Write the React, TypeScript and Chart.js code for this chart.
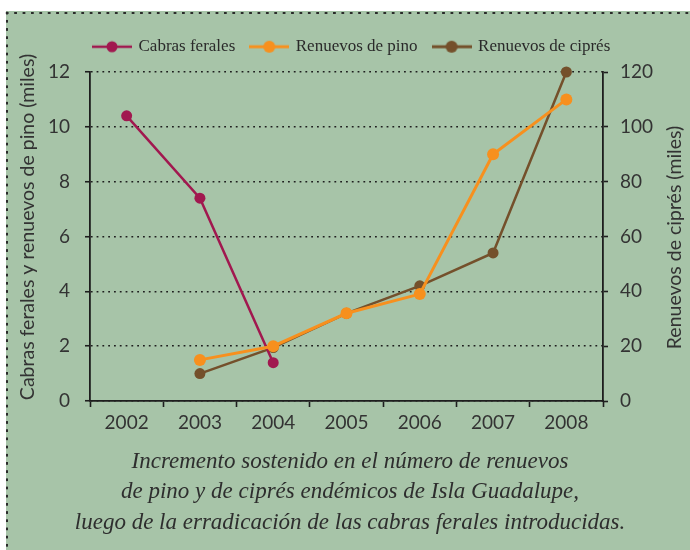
import React, { useEffect, useRef } from "react";
import { Chart, registerables } from "chart.js";

Chart.register(...registerables);

const categories = ["2002", "2003", "2004", "2005", "2006", "2007", "2008"];
const cabrasFerales = [10.4, 7.4, 1.4, null, null, null, null];
const renuevosPino = [null, 1.5, 2.0, 3.2, 3.9, 9.0, 11.0];
const renuevosCipres = [null, 10, 19.5, 32, 42, 54, 120];
const seriesLabels = ["Cabras ferales", "Renuevos de pino", "Renuevos de ciprés"];
const leftTitle = "Cabras ferales y renuevos de pino (miles)";
const rightTitle = "Renuevos de ciprés (miles)";
const caption = [
  "Incremento sostenido en el número de renuevos",
  "de pino y de ciprés endémicos de Isla Guadalupe,",
  "luego de la erradicación de las cabras ferales introducidas.",
];

const GREEN = "#a7c4a8";
const C_CABRAS = "#a1184f";
const C_PINO = "#f7901e";
const C_CIPRES = "#74502b";
const AXIS = "#1e1e1e";
const TEXT = "#333333";

function makeMarker(color: string, lw: number, r: number) {
  const c = document.createElement("canvas");
  c.width = 40;
  c.height = 14;
  const ctx = c.getContext("2d")!;
  ctx.strokeStyle = color;
  ctx.lineWidth = lw;
  ctx.beginPath();
  ctx.moveTo(0, 7);
  ctx.lineTo(40, 7);
  ctx.stroke();
  ctx.fillStyle = color;
  ctx.beginPath();
  ctx.arc(20, 7, r, 0, Math.PI * 2);
  ctx.fill();
  return c;
}

const customPlugin = {
  id: "customLayout",
  afterLayout(chart: any) {
    const lg = chart.legend;
    if (lg) {
      const w = lg.width;
      const h = lg.height;
      lg.left = 78;
      lg.right = 78 + w;
      lg.top = 22.2;
      lg.bottom = 22.2 + h;
    }
  },
  afterDraw(chart: any) {
    const ctx = chart.ctx;
    const drawTitle = (text: string, x: number, y: number) => {
      ctx.save();
      ctx.fillStyle = TEXT;
      ctx.font = "19.5px Lato";
      ctx.textAlign = "center";
      ctx.textBaseline = "middle";
      ctx.translate(x, y);
      ctx.rotate(-Math.PI / 2);
      ctx.fillText(text, 0, 0);
      ctx.restore();
    };
    drawTitle(leftTitle, 28, 227);
    drawTitle(rightTitle, 675, 237.5);
  },
};

export default function App() {
  const ref = useRef<HTMLCanvasElement>(null);

  useEffect(() => {
    if (!ref.current) return;
    const markers = [
      makeMarker(C_CABRAS, 2.5, 5.5),
      makeMarker(C_PINO, 3, 6),
      makeMarker(C_CIPRES, 3, 6),
    ];
    const tickFont = { family: "Lato", size: 19 };
    const chart = new Chart(ref.current, {
      type: "line",
      data: {
        labels: categories,
        datasets: [
          {
            label: seriesLabels[0],
            data: cabrasFerales,
            borderColor: C_CABRAS,
            backgroundColor: C_CABRAS,
            pointBackgroundColor: C_CABRAS,
            pointBorderColor: C_CABRAS,
            pointRadius: 5.5,
            pointBorderWidth: 0,
            borderWidth: 2.5,
            yAxisID: "y",
            order: 1,
            tension: 0,
            clip: false,
          },
          {
            label: seriesLabels[1],
            data: renuevosPino,
            borderColor: C_PINO,
            backgroundColor: C_PINO,
            pointBackgroundColor: C_PINO,
            pointBorderColor: C_PINO,
            pointRadius: 6,
            pointBorderWidth: 0,
            borderWidth: 3,
            yAxisID: "y",
            order: 0,
            tension: 0,
            clip: false,
          },
          {
            label: seriesLabels[2],
            data: renuevosCipres,
            borderColor: C_CIPRES,
            backgroundColor: C_CIPRES,
            pointBackgroundColor: C_CIPRES,
            pointBorderColor: C_CIPRES,
            pointRadius: 5.5,
            pointBorderWidth: 0,
            borderWidth: 2.5,
            yAxisID: "y1",
            order: 2,
            tension: 0,
            clip: false,
          },
        ],
      },
      options: {
        responsive: false,
        animation: false,
        devicePixelRatio: 1,
        layout: { padding: { top: 29, left: 10, right: 0, bottom: 0 } },
        plugins: {
          tooltip: { enabled: false },
          legend: {
            display: true,
            position: "top",
            align: "start",
            labels: {
              usePointStyle: true,
              pointStyleWidth: 36,
              padding: 16,
              color: "#2a2a2a",
              font: { family: "Liberation Serif", size: 17 },
              generateLabels: (ch: any) => {
                const items = Chart.defaults.plugins.legend.labels.generateLabels(ch);
                items.sort((a: any, b: any) => a.datasetIndex - b.datasetIndex);
                items.forEach((it: any) => {
                  it.pointStyle = markers[it.datasetIndex];
                  it.fontColor = "#2a2a2a";
                });
                return items;
              },
            },
          },
          title: {
            display: true,
            position: "bottom",
            text: caption,
            color: "#2e2e2e",
            font: { family: "Liberation Serif", size: 23, style: "italic", weight: "normal", lineHeight: 1.333 },
            padding: { top: 0, bottom: 11.6 },
          },
        },
        scales: {
          x: {
            type: "category",
            offset: true,
            grid: {
              offset: true,
              display: true,
              drawOnChartArea: false,
              drawTicks: true,
              tickLength: 6,
              tickWidth: 1.6,
              tickColor: AXIS,
            },
            border: { display: true, color: AXIS, width: 1.8 },
            ticks: { font: tickFont, color: TEXT, padding: 4, maxRotation: 0 },
            afterFit: (s: any) => {
              s.height = 45.4;
            },
          },
          y: {
            position: "left",
            min: 0,
            max: 12,
            ticks: { stepSize: 2, font: tickFont, color: TEXT, padding: 15 },
            grid: {
              display: true,
              drawOnChartArea: true,
              drawTicks: true,
              color: AXIS,
              lineWidth: 1.5,
              tickLength: 5,
              tickWidth: 1.6,
              tickColor: AXIS,
              tickBorderDash: [],
            },
            border: { display: true, color: AXIS, width: 1.8, dash: [1.8, 4] },
            afterFit: (s: any) => {
              s.width = 80;
            },
          },
          y1: {
            position: "right",
            min: 0,
            max: 120,
            ticks: { stepSize: 20, font: tickFont, color: TEXT, padding: 12 },
            grid: {
              display: true,
              drawOnChartArea: false,
              drawTicks: true,
              tickLength: 5,
              tickWidth: 1.6,
              tickColor: AXIS,
            },
            border: { display: true, color: AXIS, width: 1.8 },
            afterFit: (s: any) => {
              s.width = 87;
            },
          },
        },
      },
      plugins: [customPlugin],
    } as any);
    return () => chart.destroy();
  }, []);

  return (
    <div
      style={{
        position: "absolute",
        left: 0,
        top: 0,
        width: 690,
        height: 550,
        background: "#ffffff",
        overflow: "hidden",
      }}
    >
      <div
        style={{
          position: "absolute",
          left: 6,
          top: 11,
          right: 0,
          bottom: 0,
          background: GREEN,
        }}
      />
      <div
        style={{
          position: "absolute",
          left: 3.1,
          top: 11.5,
          width: 687,
          height: 2.4,
          backgroundImage: "radial-gradient(circle, #2a2a2a 1.1px, transparent 1.4px)",
          backgroundSize: "8.4px 2.4px",
          backgroundRepeat: "repeat-x",
        }}
      />
      <div
        style={{
          position: "absolute",
          left: 6.1,
          top: 8.6,
          width: 2.4,
          height: 542,
          backgroundImage: "radial-gradient(circle, #2a2a2a 1.1px, transparent 1.4px)",
          backgroundSize: "2.4px 8.2px",
          backgroundRepeat: "repeat-y",
        }}
      />
      <canvas
        ref={ref}
        width={690}
        height={550}
        style={{ position: "absolute", left: 0, top: 0, width: 690, height: 550 }}
      />
    </div>
  );
}
